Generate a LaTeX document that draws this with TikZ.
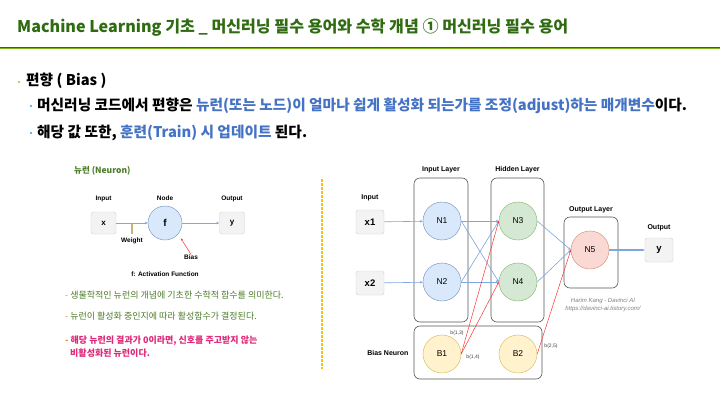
\documentclass[tikz,border=0pt]{standalone}
\usepackage{fontspec}
\setmainfont{Liberation Sans}
\newfontfamily\kr{Noto Sans CJK KR}
\usetikzlibrary{arrows.meta, positioning}

\definecolor{titlegreen}{HTML}{2F6B10}
\definecolor{limeline}{HTML}{7DB51C}
\definecolor{hlblue}{HTML}{4472C4}
\definecolor{dotblue}{HTML}{1CA8E8}
\definecolor{dotgreen}{HTML}{8CC63F}
\definecolor{notegreen}{HTML}{4E7D2A}
\definecolor{notepink}{HTML}{E0287A}
\definecolor{dashorange}{HTML}{F08C1E}
\definecolor{divider}{HTML}{FFC000}
\definecolor{edgeblue}{HTML}{7EA6E0}
\definecolor{biasred}{HTML}{FF3333}
\definecolor{boxfill}{HTML}{F3F3F3}
\definecolor{boxdraw}{HTML}{D0D0D0}
\definecolor{bluefill}{HTML}{DAE8FC}
\definecolor{bluedraw}{HTML}{6C8EBF}
\definecolor{greenfill}{HTML}{D5E8D4}
\definecolor{greendraw}{HTML}{82B366}
\definecolor{redfill}{HTML}{FAD9D5}
\definecolor{reddraw}{HTML}{D08A70}
\definecolor{yellowfill}{HTML}{FFF2CC}
\definecolor{yellowdraw}{HTML}{D6B656}
\definecolor{layerdraw}{HTML}{555555}
\definecolor{weighttan}{HTML}{C8B27A}

\newcommand{\hl}[1]{\textcolor{hlblue}{#1}}
\newcommand{\dash}{\textcolor{dashorange}{-}}

\begin{document}
\begin{tikzpicture}[x=1pt, y=-1pt, node distance=6pt,
  every node/.style={inner sep=0pt},
  slidetxt/.style={anchor=west, font=\kr\bfseries\fontsize{14.7}{16}\selectfont},
  notetxt/.style={anchor=west, font=\kr\fontsize{9}{10}\selectfont},
  lbl/.style={font=\bfseries\fontsize{7}{8}\selectfont},
  smlbl/.style={font=\bfseries\fontsize{6.5}{7.5}\selectfont},
  inbox/.style={rectangle, rounded corners=2.5pt, draw=boxdraw, fill=boxfill, minimum width=28pt, minimum height=24pt, font=\bfseries\fontsize{9.5}{10}\selectfont},
  neuron/.style={circle, minimum size=38pt, font=\fontsize{8.5}{9}\selectfont},
  inneuron/.style={neuron, draw=bluedraw, fill=bluefill},
  hidneuron/.style={neuron, draw=greendraw, fill=greenfill},
  outneuron/.style={neuron, draw=reddraw, fill=redfill},
  biasneuron/.style={neuron, draw=yellowdraw, fill=yellowfill},
  layerbox/.style={rectangle, rounded corners=6pt, draw=layerdraw, line width=0.6pt},
  netedge/.style={-{Stealth[length=3pt,width=2.5pt]}, edgeblue, line width=0.6pt},
  biasedge/.style={-{Stealth[length=2.5pt,width=2pt]}, biasred, line width=0.5pt},
  blbl/.style={font=\fontsize{5}{6}\selectfont, text=black!75}]

\useasboundingbox[fill=white] (0,0) rectangle (720,405);

% Title and rule
\node[anchor=west, font=\kr\bfseries\fontsize{16.1}{18}\selectfont, text=titlegreen] (title) at (17,28) {Machine Learning 기초 \_ 머신러닝 필수 용어와 수학 개념 ① 머신러닝 필수 용어};
\draw[titlegreen, line width=1pt] (0,47) -- (720,47);
\draw[limeline, line width=1.5pt] (0,48.5) -- (720,48.5);

% Bullets
\fill[dotgreen] (19,82) circle (1.1pt);
\node[slidetxt] (bias) at (26,81) {편향 ( Bias )};
\fill[dotblue] (31,106) circle (1.1pt);
\node[slidetxt] (meaning) at (37,106) {머신러닝 코드에서 편향은 \hl{뉴런(또는 노드)이 얼마나 쉽게 활성화 되는가를 조정(adjust)하는 매개변수}이다.};
\fill[dotblue] (31,133) circle (1.1pt);
\node[slidetxt] (update) at (37,133) {해당 값 또한, \hl{훈련(Train) 시 업데이트} 된다.};

% Single neuron
\node[anchor=west, font=\kr\bfseries\fontsize{8.5}{9.5}\selectfont, text=notegreen] (neurontitle) at (74,171) {뉴런 (Neuron)};
\node[inbox, minimum width=25pt, minimum height=22pt, font=\bfseries\fontsize{8}{9}\selectfont] (x) at (103.5,223) {x};
\node[inneuron, minimum size=34pt, font=\bfseries\fontsize{10}{11}\selectfont] (f) at (165,223) {f};
\node[inbox, minimum width=25pt, minimum height=22pt, font=\bfseries\fontsize{8}{9}\selectfont] (y) at (232,223) {y};
\node[smlbl, above=10pt of x] (inputlbl) {Input};
\node[smlbl, above=5pt of f] (nodelbl) {Node};
\node[smlbl, above=10pt of y] (outputlbl) {Output};
\draw[netedge, line width=0.9pt] (x) -- (f);
\draw[netedge, line width=0.9pt] (f) -- (y);
\coordinate (wtop) at (132,224);
\coordinate (wbot) at (132,234);
\draw[weighttan, line width=1.2pt] (wtop) -- (wbot);
\node[smlbl] (weightlbl) at (132,241) {Weight};
\node[smlbl] (biaslbl) at (191,257) {Bias};
\draw[biasedge, shorten >=5pt] (biaslbl.north) -- (f.-40);
\node[smlbl] (actlbl) at (165,274) {f: Activation Function};

% Notes
\node[notetxt, text=notegreen] (note1) at (65,295) {\dash\ 생물학적인 뉴런의 개념에 기초한 수학적 함수를 의미한다.};
\node[notetxt, text=notegreen] (note2) at (65,316) {\dash\ 뉴런이 활성화 중인지에 따라 활성함수가 결정된다.};
\node[notetxt, text=notepink, font=\kr\bfseries\fontsize{9}{10}\selectfont] (note3) at (65,341) {\dash\ 해당 뉴런의 결과가 0이라면, 신호를 주고받지 않는};
\node[notetxt, text=notepink, font=\kr\bfseries\fontsize{9}{10}\selectfont] (note4) at (70,353) {비활성화된 뉴런이다.};

% Divider
\draw[divider, line width=1.6pt, dash pattern=on 3pt off 1pt] (322,179) -- (322,369);

% Layers
\node[layerbox, minimum width=54pt, minimum height=144pt] (inlayer) at (441,250) {};
\node[layerbox, minimum width=53pt, minimum height=144pt] (hidlayer) at (517.5,250) {};
\node[layerbox, minimum width=54pt, minimum height=71pt] (outlayer) at (591,252.5) {};
\node[layerbox, minimum width=128pt, minimum height=53pt] (biaslayer) at (478,352.5) {};
\node[lbl, above=5pt of inlayer] (inlayerlbl) {Input Layer};
\node[lbl, above=5pt of hidlayer] (hidlayerlbl) {Hidden Layer};
\node[lbl, above=4pt of outlayer] (outlayerlbl) {Output Layer};
\node[lbl, left=5pt of biaslayer] (biaslayerlbl) {Bias Neuron};

% Inputs and output
\node[inbox] (x1) at (370,222) {x1};
\node[inbox] (x2) at (370,283) {x2};
\node[inbox] (yout) at (659,250) {y};
\node[lbl, above=9pt of x1] (netinput) {Input};
\node[lbl, above=7pt of yout] (netoutput) {Output};

% Neurons
\node[inneuron] (n1) at (442,221) {N1};
\node[inneuron] (n2) at (442,282) {N2};
\node[hidneuron] (n3) at (518,221) {N3};
\node[hidneuron] (n4) at (518,282) {N4};
\node[outneuron] (n5) at (590,250) {N5};
\node[biasneuron] (b1) at (442,354) {B1};
\node[biasneuron] (b2) at (518,354) {B2};

% Weights
\draw[netedge] (x1) -- (n1);
\draw[netedge] (x2) -- (n2);
\draw[netedge] (n1.east) -- (n3.west);
\draw[netedge] (n1.east) -- (n4.west);
\draw[netedge] (n2.east) -- (n3.west);
\draw[netedge] (n2.east) -- (n4.west);
\draw[netedge] (n3.east) -- (n5.west);
\draw[netedge] (n4.east) -- (n5.west);
\draw[netedge, line width=1.1pt] (n5) -- (yout);

% Biases
\draw[biasedge] (b1.east) -- (n3.west);
\draw[biasedge] (b1.east) -- (n4.west);
\draw[biasedge] (b2.east) -- (n5.west);
\node[blbl] (b13) at (457,333) {b(1,3)};
\node[blbl] (b14) at (473,357) {b(1,4)};
\node[blbl] (b25) at (551,346) {b(2,5)};

% Credit
\node[font=\itshape\fontsize{6}{7}\selectfont, text=black!50] (credit) at (603,301) {Harim Kang - Davinci AI};
\node[font=\itshape\fontsize{6}{7}\selectfont, text=black!50, below=1.5pt of credit] (url) {https://davinci-ai.tistory.com/};

\end{tikzpicture}
\end{document}
